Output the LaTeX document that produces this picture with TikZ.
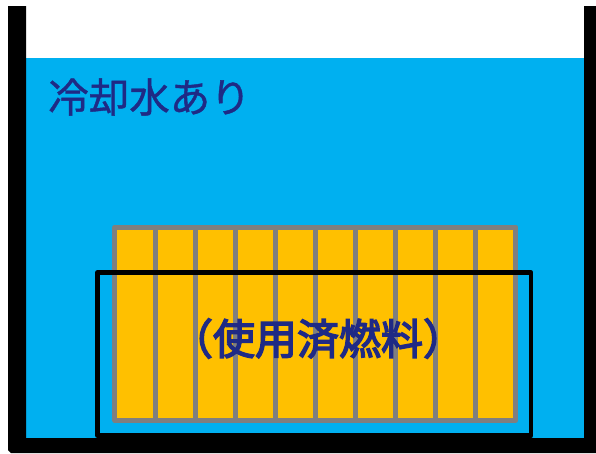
\documentclass[tikz,border=0pt]{standalone}
\usepackage{fontspec}
\newfontfamily\cjk[FakeBold=1]{Noto Sans CJK JP}
\newfontfamily\cjkheavy[FakeBold=3.5]{Noto Sans CJK JP}
\definecolor{water}{HTML}{00B0F0}
\definecolor{fuel}{HTML}{FFC000}
\definecolor{rack}{HTML}{7F7F7F}
\definecolor{ink}{HTML}{1F2A85}
\tikzset{
  wall/.style={line width=4.8pt,draw=black,line join=round},
  rackline/.style={line width=5pt,draw=rack,fill=fuel,line join=round},
  label/.style={inner sep=0pt,text=ink,anchor=center}
}
\begin{document}
\begin{tikzpicture}[x=1pt,y=-1pt]
\useasboundingbox (0,0) rectangle (596,453);
\fill[white] (0,0) rectangle (596,453);
\fill[water] (26,58) rectangle (584,438);
\fill[black] (8,6) -- (26,6) -- (26,438) -- (584,438) -- (584,6) -- (596,6) -- (596,453) -- (11,453) -- (8,450) -- cycle;
\foreach \k in {0,...,9}{
  \draw[rackline] ({114.9+40.1*\k},227) rectangle ({114.9+40.1*(\k+1)},420.4);
}
\draw[wall] (97.5,272.5) rectangle (531,435.6);
\node[label,font=\cjk\fontsize{40.5}{41}\selectfont] (cool) at (149.5,97) {冷却水あり};
\node[label,font=\cjkheavy\fontsize{42}{42}\selectfont] (spent) at (318,338.5) {（使用済燃料）};
\end{tikzpicture}
\end{document}
